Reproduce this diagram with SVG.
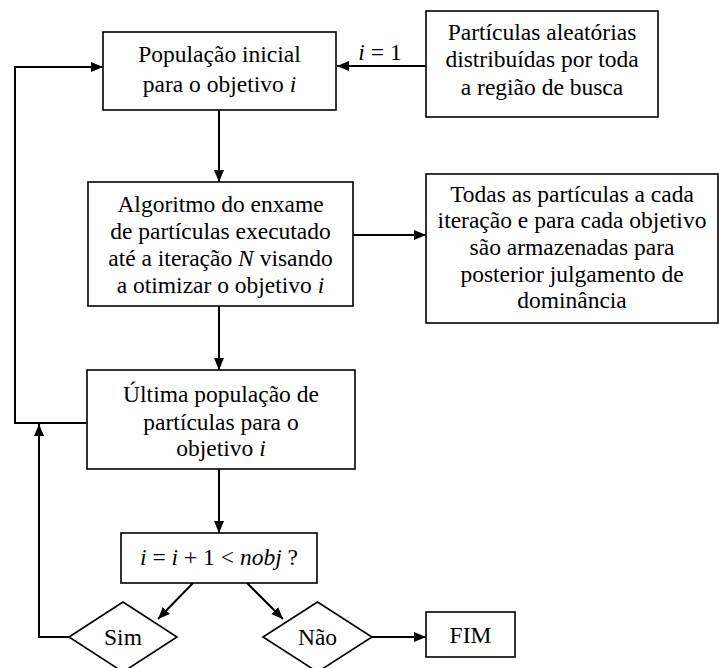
<svg xmlns="http://www.w3.org/2000/svg" width="719" height="668" viewBox="0 0 719 668" font-family="'Liberation Serif', serif">
<style>
.b{fill:#fff;stroke:#000;stroke-width:1.6}
.t{font-size:23.5px;fill:#000;text-anchor:middle}
.c{fill:none;stroke:#000;stroke-width:2}
.i{font-style:italic}
</style>
<defs>
<marker id="a" viewBox="0 0 12 10" refX="12" refY="5" markerWidth="12" markerHeight="10" markerUnits="userSpaceOnUse" orient="auto">
<path d="M0,0 L12,5 L0,10 Z" fill="#000"/>
</marker>
</defs>
<rect width="719" height="668" fill="#fff"/>
<g id="connectors">
<path class="c" d="M426,66 H337" marker-end="url(#a)"/>
<path class="c" d="M219,110 V182" marker-end="url(#a)"/>
<path class="c" d="M353,235 H426" marker-end="url(#a)"/>
<path class="c" d="M219,306 V370" marker-end="url(#a)"/>
<path class="c" d="M87,423 H15 V67 H103" marker-end="url(#a)"/>
<path class="c" d="M69,637 H39 V424" marker-end="url(#a)"/>
<path class="c" d="M219,469 V533" marker-end="url(#a)"/>
<path class="c" d="M193,583 L158,619" marker-end="url(#a)"/>
<path class="c" d="M247,583 L283,619" marker-end="url(#a)"/>
<path class="c" d="M372,637 H426" marker-end="url(#a)"/>
<text class="t" x="380" y="60"><tspan class="i">i</tspan> = 1</text>
</g>
<g id="n1">
<rect class="b" x="103" y="32" width="233" height="78"/>
<text class="t" x="219.5" y="62">População inicial</text>
<text class="t" x="219.5" y="92">para o objetivo <tspan class="i">i</tspan></text>
</g>
<g id="n2">
<rect class="b" x="426" y="11" width="232" height="106"/>
<text class="t" x="542" y="40">Partículas aleatórias</text>
<text class="t" x="542" y="67">distribuídas por toda</text>
<text class="t" x="542" y="95">a região de busca</text>
</g>
<g id="n3">
<rect class="b" x="88" y="182" width="265" height="124"/>
<text class="t" x="220.5" y="212">Algoritmo do enxame</text>
<text class="t" x="220.5" y="239">de partículas executado</text>
<text class="t" x="220.5" y="266">até a iteração <tspan class="i">N</tspan> visando</text>
<text class="t" x="220.5" y="293">a otimizar o objetivo <tspan class="i">i</tspan></text>
</g>
<g id="n4">
<rect class="b" x="426" y="174" width="292" height="149"/>
<text class="t" x="572" y="202">Todas as partículas a cada</text>
<text class="t" x="572" y="228">iteração e para cada objetivo</text>
<text class="t" x="572" y="255">são armazenadas para</text>
<text class="t" x="572" y="282">posterior julgamento de</text>
<text class="t" x="572" y="308">dominância</text>
</g>
<g id="n5">
<rect class="b" x="87" y="370" width="268" height="99"/>
<text class="t" x="221" y="402">Última população de</text>
<text class="t" x="221" y="430">partículas para o</text>
<text class="t" x="221" y="456">objetivo <tspan class="i">i</tspan></text>
</g>
<g id="n6">
<rect class="b" x="121" y="533" width="196" height="50"/>
<text class="t" x="219" y="565"><tspan class="i">i</tspan> = <tspan class="i">i</tspan> + 1 &lt; <tspan class="i">nobj</tspan> ?</text>
</g>
<g id="n7">
<path class="b" d="M69,637 L123,602 L177,637 L123,672 Z"/>
<text class="t" x="123" y="645">Sim</text>
</g>
<g id="n8">
<path class="b" d="M263,637 L317.5,602 L372,637 L317.5,672 Z"/>
<text class="t" x="317.5" y="645">Não</text>
</g>
<g id="n9">
<rect class="b" x="426" y="612" width="89" height="45"/>
<text class="t" x="470.5" y="643">FIM</text>
</g>
</svg>
